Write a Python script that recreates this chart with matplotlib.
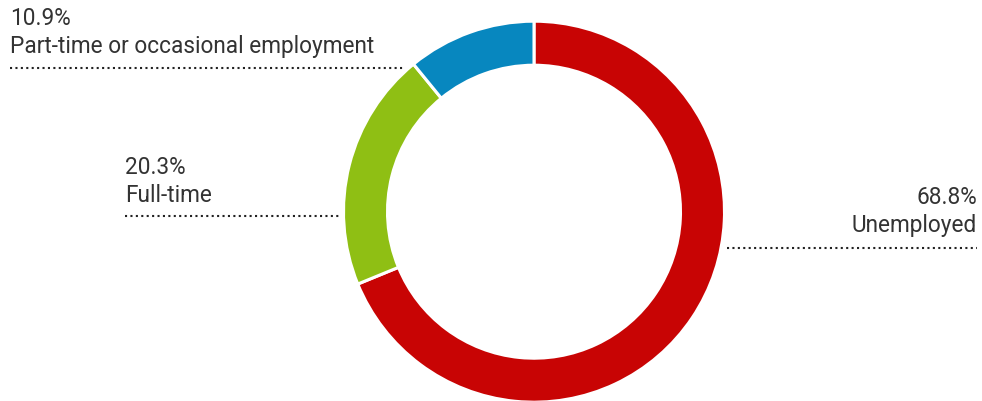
import matplotlib
matplotlib.use("Agg")
import matplotlib.pyplot as plt

# Employment status shares (%)
categories = ["Unemployed", "Full-time", "Part-time or occasional employment"]
shares = [68.8, 20.3, 10.9]
colors = ["#c80404", "#8fbf14", "#0787bf"]

W, H = 982, 402
fig = plt.figure(figsize=(W / 100, H / 100), dpi=100)
ax = fig.add_axes([0, 0, 1, 1])

cx, cy, r_out = 534, H - 212.7, 190.5
ring = 44

ax.pie(shares, colors=colors, startangle=90, counterclock=False,
       radius=r_out, center=(cx, cy), frame=True,
       wedgeprops=dict(width=ring, edgecolor="white", linewidth=2.2))
ax.set_xlim(0, W)
ax.set_ylim(0, H)
ax.set_aspect("equal")
ax.axis("off")

txt = "#333333"
font = "Roboto"
fs = 16.3

# label anchors: x, top of value text, dotted leader (x0, x1, y), alignment
layout = {
    "Unemployed": dict(x=977, top=189, line=(727, 977, 249), ha="right"),
    "Full-time": dict(x=125, top=159, line=(125, 340, 217), ha="left"),
    "Part-time or occasional employment": dict(x=10, top=10, line=(10, 404, 69), ha="left"),
}

for cat, val in zip(categories, shares):
    p = layout[cat]
    ax.text(p["x"], H - p["top"] + 3, f"{val}%", ha=p["ha"], va="top",
            fontsize=fs, color=txt, family=font)
    ax.text(p["x"], H - p["top"] - 25, cat, ha=p["ha"], va="top",
            fontsize=fs, color=txt, family=font)
    x0, x1, ly = p["line"]
    ax.plot([x0, x1], [H - ly, H - ly], color="#222222", linewidth=1.5,
            linestyle=(0, (1, 1.6)), dash_capstyle="butt")

fig.savefig("out.png", dpi=100, facecolor="white")
